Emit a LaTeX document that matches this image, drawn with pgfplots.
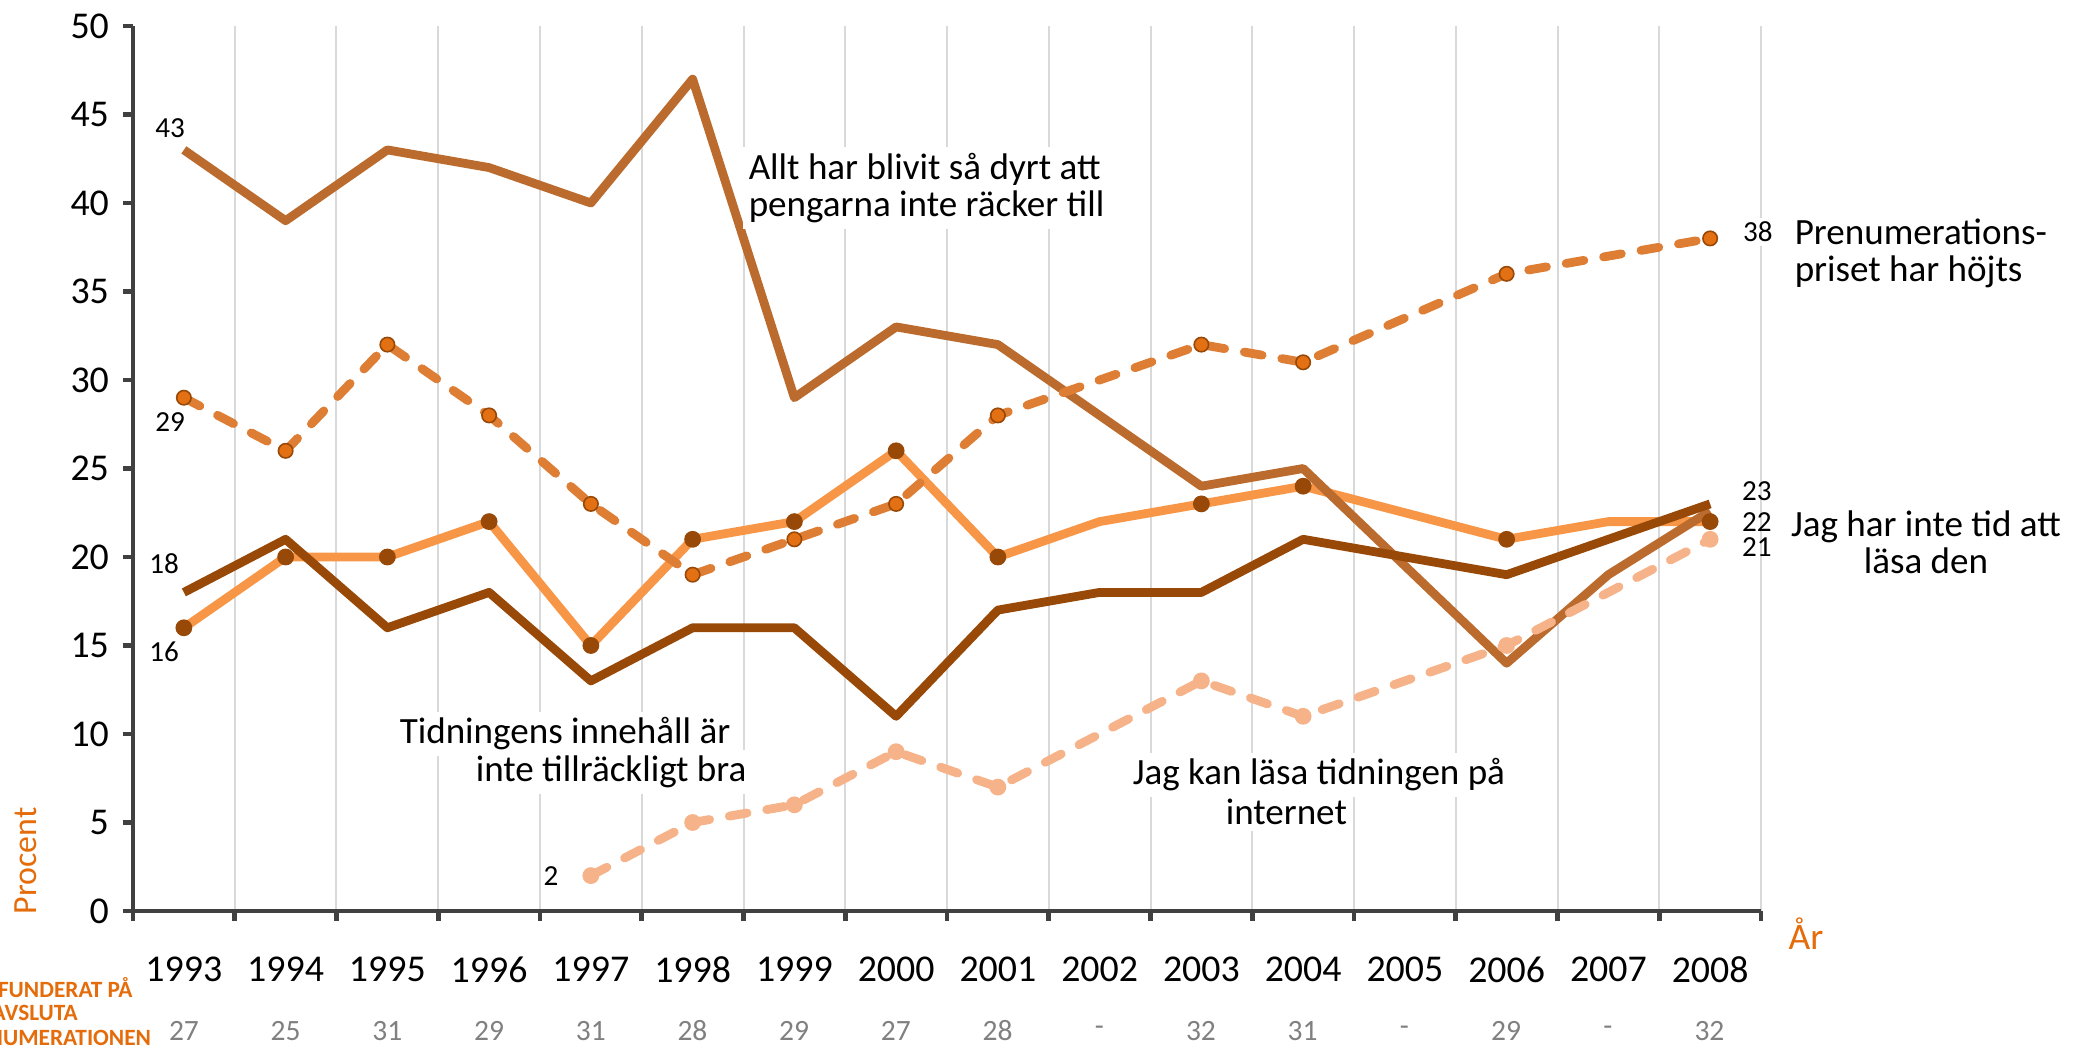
\documentclass[border=0pt]{standalone}
\usepackage{pgfplots}
\pgfplotsset{compat=1.18}
\usepackage{fontspec}
\setmainfont{Carlito}
\definecolor{allt}{RGB}{187,107,46}
\definecolor{tidn}{RGB}{152,72,7}
\definecolor{tid}{RGB}{247,150,70}
\definecolor{pren}{RGB}{222,126,52}
\definecolor{prenm}{RGB}{228,112,20}
\definecolor{peach}{RGB}{246,178,136}
\definecolor{otext}{RGB}{228,108,10}
\definecolor{axgray}{RGB}{64,64,64}
\definecolor{gridg}{RGB}{217,217,217}
\definecolor{valgray}{RGB}{128,128,128}
\newcommand{\annot}{\fontsize{9.3}{9.3}\selectfont}
\newcommand{\dlab}{\fontsize{7.3}{7.3}\selectfont}
\begin{document}
\begin{tikzpicture}
\path[use as bounding box] (-33.25bp,-34.25bp) rectangle (486bp,227.75bp);
\begin{axis}[
  at={(0bp,0bp)}, anchor=south west,
  scale only axis, width=407bp, height=221.25bp,
  xmin=-0.5, xmax=15.5, ymin=0, ymax=50,
  axis x line*=bottom, axis y line*=left,
  axis line style={draw=axgray, line width=1.2bp},
  xtick={-0.5,0.5,1.5,2.5,3.5,4.5,5.5,6.5,7.5,8.5,9.5,10.5,11.5,12.5,13.5,14.5,15.5},
  xticklabels={},
  xmajorgrids, major grid style={draw=gridg, line width=0.5bp},
  extra x ticks={0,1,2,3,4,5,6,7,8,9,10,11,12,13,14,15},
  extra x tick labels={1993,1994,1995,1996,1997,1998,1999,2000,2001,2002,2003,2004,2005,2006,2007,2008},
  extra x tick style={major tick length=0pt, grid=none, tick label style={yshift=-8bp}},
  ytick={0,5,...,50},
  tick align=outside, major tick length=2.5bp,
  tick style={draw=axgray, line width=1.2bp},
  /pgf/number format/assume math mode=true,
  tick label style={font=\fontsize{9.5}{10}\selectfont, text=black},
  clip=false,
]
% Jag har inte tid att läsa den
\addplot[tid, line width=2.2bp, line join=round] coordinates {
 (0,16)(1,20)(2,20)(3,22)(4,15)(5,21)(6,22)(7,26)(8,20)(9,22)(10,23)(11,24)(12,22.5)(13,21)(14,22)(15,22)};
% Allt har blivit så dyrt
\addplot[allt, line width=2.2bp, line join=round] coordinates {
 (0,43)(1,39)(2,43)(3,42)(4,40)(5,47)(6,29)(7,33)(8,32)(9,28)(10,24)(11,25)(12,19.5)(13,14)(14,19)(15,22.6)};
% Tidningens innehåll
\addplot[tidn, line width=2.2bp, line join=round] coordinates {
 (0,18)(1,21)(2,16)(3,18)(4,13)(5,16)(6,16)(7,11)(8,17)(9,18)(10,18)(11,21)(12,20)(13,19)(14,21)(15,23)};
% Prenumerationspriset
\addplot[pren, line width=2.2bp, line cap=round, line join=round, dash pattern=on 4.5bp off 5bp] coordinates {
 (0,29)(1,26)(2,32)(3,28)(4,23)(5,19)(6,21)(7,23)(8,28)(9,30)(10,32)(11,31)(12,33.5)(13,36)(14,37)(15,38)};
% Internet
\addplot[peach, line width=2.2bp, line cap=round, line join=round, dash pattern=on 4.5bp off 5bp] coordinates {
 (4,2)(5,5)(6,6)(7,9)(8,7)(9,10)(10,13)(11,11)(12,13)(13,15)(14,18)(15,21)};
% markers
\addplot[only marks, mark=*, mark size=1.9bp, mark options={fill=tidn, draw=tidn}] coordinates {
 (0,16)(1,20)(2,20)(3,22)(4,15)(5,21)(6,22)(7,26)(8,20)(10,23)(11,24)(13,21)(15,22)};
\addplot[only marks, mark=*, mark size=1.8bp, mark options={fill=prenm, draw=tidn, line width=0.4bp}] coordinates {
 (0,29)(1,26)(2,32)(3,28)(4,23)(5,19)(6,21)(7,23)(8,28)(10,32)(11,31)(13,36)(15,38)};
\addplot[only marks, mark=*, mark size=1.9bp, mark options={fill=peach, draw=peach}] coordinates {
 (4,2)(5,5)(6,6)(7,9)(8,7)(10,13)(11,11)(13,15)(15,21)};
\end{axis}
\begin{scope}[x=0.25bp, y=-0.25bp, shift={(-33.25bp,227.75bp)}]
 \node[anchor=west, fill=white, inner sep=1.5bp, align=left, font=\annot] at (742,188) {Allt har blivit så dyrt att\\pengarna inte räcker till};
 \node[anchor=west, fill=white, inner sep=1.5bp, align=left, font=\annot] at (1788,253) {Prenumerations-\\priset har höjts};
 \node[fill=white, inner sep=1.5bp, align=center, font=\annot] at (1926,542) {Jag har inte tid att\\läsa den};
 \node[anchor=west, fill=white, inner sep=1.5bp, font=\annot] at (393,734) {Tidningens innehåll är};
 \node[anchor=west, fill=white, inner sep=1.5bp, font=\annot] at (469,772) {inte tillräckligt bra};
 \node[anchor=west, fill=white, inner sep=1.5bp, font=\annot] at (1126,775) {Jag kan läsa tidningen på};
 \node[anchor=west, fill=white, inner sep=1.5bp, font=\annot] at (1219,812) {internet};
 \node[font=\dlab] at (170,128) {43};
 \node[font=\dlab] at (170,422) {29};
 \node[font=\dlab] at (164,564) {18};
 \node[font=\dlab] at (164,652) {16};
 \node[font=\dlab] at (551,876) {2};
 \node[font=\dlab, fill=white, inner sep=1bp] at (1758,232) {38};
 \node[font=\dlab] at (1757,491) {23};
 \node[font=\dlab] at (1757,522) {22};
 \node[font=\dlab] at (1757,547) {21};
 \node[font=\fontsize{8.5}{8.5}\selectfont, text=otext, rotate=90] at (26,861) {Procent};
 \node[font=\fontsize{9.4}{9.4}\selectfont, text=otext] at (1806,934) {År};
 \foreach \v [count=\i from 0] in {27,25,31,29,31,28,29,27,28,-,32,31,-,29,-,32}{
   \node[font=\fontsize{7.4}{7.4}\selectfont, text=valgray] at ({184+101.7*\i},1031) {\v};
 }
 \node[anchor=west, font=\fontsize{5.85}{5.85}\selectfont\bfseries, text=otext, inner sep=0pt] at (-50,988) {HAR FUNDERAT PÅ};
 \node[anchor=west, font=\fontsize{5.85}{5.85}\selectfont\bfseries, text=otext, inner sep=0pt] at (-50,1013) {ATT AVSLUTA};
 \node[anchor=west, font=\fontsize{5.85}{5.85}\selectfont\bfseries, text=otext, inner sep=0pt] at (-50,1038) {PRENUMERATIONEN};
\end{scope}
\end{tikzpicture}
\end{document}
